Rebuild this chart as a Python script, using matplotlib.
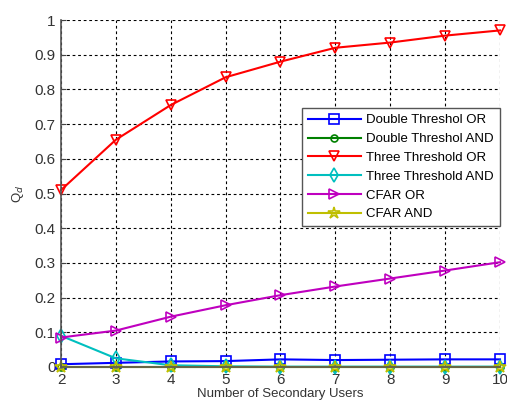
import matplotlib.pyplot as plt

plt.rcParams["font.family"] = ["Liberation Sans", "DejaVu Sans"]

users = [2, 3, 4, 5, 6, 7, 8, 9, 10]
double_or = [0.008, 0.012, 0.016, 0.017, 0.022, 0.020, 0.021, 0.022, 0.022]
double_and = [0, 0, 0, 0, 0, 0, 0, 0, 0]
three_or = [0.51, 0.655, 0.755, 0.835, 0.88, 0.92, 0.935, 0.955, 0.97]
three_and = [0.09, 0.025, 0.005, 0.002, 0.001, 0.001, 0.001, 0.001, 0.001]
cfar_or = [0.085, 0.105, 0.145, 0.178, 0.207, 0.232, 0.255, 0.278, 0.302]
cfar_and = [0, 0, 0, 0, 0, 0, 0, 0, 0]

fig = plt.figure(figsize=(5.07, 4.01), dpi=100)
ax = fig.add_axes([61 / 507, 34 / 401, 439 / 507, 347 / 401])

kw = dict(lw=1.5, markersize=7, markerfacecolor="none", markeredgewidth=1.2, clip_on=False)
ax.plot(users, double_or, color="#0000ff", marker="s", label="Double Threshol OR", **kw)
ax.plot(users, double_and, color="#008000", marker="o", label="Double Threshol AND",
        **{**kw, "markersize": 5})
ax.plot(users, three_or, color="#ff0000", marker="v", label="Three Threshold OR", **kw)
ax.plot(users, three_and, color="#00bfbf", marker="d", label="Three Threshold AND", **kw)
ax.plot(users, cfar_or, color="#bf00bf", marker=">", label="CFAR OR", **kw)
ax.plot(users, cfar_and, color="#bfbf00", marker="*", label="CFAR AND",
        **{**kw, "markersize": 9})

ax.set_xlim(2, 10)
ax.set_ylim(0, 1)
ax.set_xticks(users)
ax.set_yticks([i / 10 for i in range(11)])
ax.set_yticklabels(["0", "0.1", "0.2", "0.3", "0.4", "0.5", "0.6", "0.7", "0.8", "0.9", "1"])
ax.grid(True, color="black", linestyle=(0, (2.5, 2.5)), linewidth=0.8)
ax.tick_params(direction="in", labelsize=11, colors="#444444", labelcolor="#333333", pad=4)
ax.spines["top"].set_visible(False)
ax.spines["right"].set_visible(False)
for s in ["left", "bottom"]:
    ax.spines[s].set_color("#555555")
    ax.spines[s].set_linewidth(1.2)

ax.set_xlabel("Number of Secondary Users", fontsize=9.5, color="#333333", labelpad=1)
ax.set_ylabel("Q$_d$", fontsize=9.5, color="#333333", labelpad=6)

leg = ax.legend(loc="upper right", bbox_to_anchor=(1.014, 0.765), fontsize=9.5,
                fancybox=False, framealpha=1, edgecolor="#555555",
                borderpad=0.45, labelspacing=0.5, handlelength=4.0, handletextpad=0.4)
leg.get_frame().set_linewidth(1.0)

plt.savefig("out.png", dpi=100)
